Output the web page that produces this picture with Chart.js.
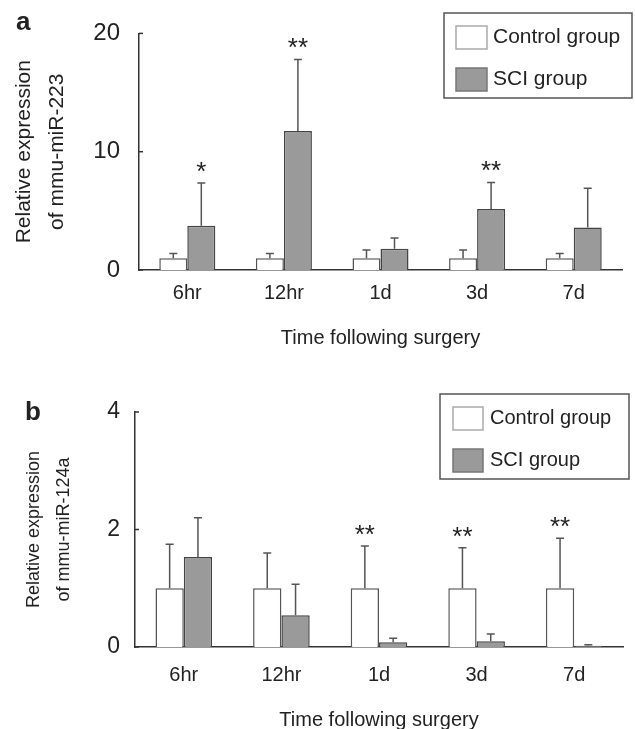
<!DOCTYPE html>
<html>
<head>
<meta charset="utf-8">
<script src="https://cdn.jsdelivr.net/npm/chart.js@4.4.1/dist/chart.umd.min.js"></script>
<style>
    html, body { margin: 0; padding: 0; background: #fff; width: 635px; height: 729px; overflow: hidden; }
    .panel { position: absolute; left: 0; width: 635px; }
    #panel-a { top: 0; height: 365px; }
    #panel-b { top: 365px; height: 380px; }
    .tag { position: absolute; font: bold 26px "Liberation Sans", Arial, sans-serif; line-height: 26px; color: #222; }
</style>
</head>
<body>
<div class="panel" id="panel-a"><canvas id="chart-a"></canvas></div>
<div class="panel" id="panel-b"><canvas id="chart-b"></canvas></div>
<div class="tag" style="left:16px; top:8px;">a</div>
<div class="tag" style="left:25px; top:398px;">b</div>
<script>
const FONT = '"Liberation Sans", Arial, sans-serif';

const categories = ["6hr", "12hr", "1d", "3d", "7d"];

// panel a: mmu-miR-223
const controlA = [1, 1, 1, 1, 1];
const controlErrA = [0.4, 0.4, 0.7, 0.7, 0.4];
const sciA = [3.75, 11.75, 1.8, 5.15, 3.6];
const sciErrA = [3.6, 6.05, 0.9, 2.25, 3.3];
const controlStarsA = ["", "", "", "", ""];
const sciStarsA = ["*", "**", "", "**", ""];
const yTicksA = [0, 10, 20];

// panel b: mmu-miR-124a
const controlB = [1, 1, 1, 1, 1];
const controlErrB = [0.75, 0.6, 0.72, 0.69, 0.85];
const sciB = [1.53, 0.54, 0.08, 0.1, 0.02];
const sciErrB = [0.67, 0.53, 0.07, 0.12, 0.02];
const controlStarsB = ["", "", "**", "**", "**"];
const sciStarsB = ["", "", "", "", ""];
const yTicksB = [0, 2, 4];

// upper error bars + significance stars
const errorBars = {
    id: "errorBars",
    afterDatasetsDraw(chart) {
        const ctx = chart.ctx;
        const y = chart.scales.y;
        chart.data.datasets.forEach((ds, i) => {
            chart.getDatasetMeta(i).data.forEach((bar, j) => {
                const base = y.getPixelForValue(ds.data[j]);
                const top = y.getPixelForValue(ds.data[j] + ds.errors[j]);
                ctx.save();
                ctx.strokeStyle = "#555";
                ctx.lineWidth = 1.5;
                ctx.beginPath();
                ctx.moveTo(bar.x, base);
                ctx.lineTo(bar.x, top);
                ctx.moveTo(bar.x - 4, top);
                ctx.lineTo(bar.x + 4, top);
                ctx.stroke();
                if (ds.stars[j]) {
                    ctx.fillStyle = "#222";
                    ctx.font = "26px " + FONT;
                    ctx.textAlign = "center";
                    ctx.textBaseline = "alphabetic";
                    ctx.fillText(ds.stars[j], bar.x, top - 3);
                }
                ctx.restore();
            });
        });
    },
};

// small inward tick marks on the y axis
const innerTicks = {
    id: "innerTicks",
    afterDraw(chart) {
        const ctx = chart.ctx;
        const y = chart.scales.y;
        ctx.save();
        ctx.strokeStyle = "#333";
        ctx.lineWidth = 1.5;
        y.ticks.forEach((t) => {
            const py = y.getPixelForValue(t.value);
            ctx.beginPath();
            ctx.moveTo(y.right, py);
            ctx.lineTo(y.right + 4, py);
            ctx.stroke();
        });
        ctx.restore();
    },
};

// boxed legend in the top right corner
const boxLegend = {
    id: "boxLegend",
    afterDraw(chart, args, o) {
        const ctx = chart.ctx;
        ctx.save();
        ctx.strokeStyle = "#555";
        ctx.lineWidth = 1.5;
        ctx.strokeRect(o.x, o.y, o.w, o.h);
        chart.data.datasets.forEach((ds, i) => {
            const ry = o.rows[i];
            ctx.fillStyle = ds.backgroundColor;
            ctx.fillRect(o.sx, ry, o.sw, o.sh);
            ctx.strokeStyle = o.swatchBorder[i];
            ctx.lineWidth = 1.5;
            ctx.strokeRect(o.sx, ry, o.sw, o.sh);
            ctx.fillStyle = "#222";
            ctx.font = o.size + "px " + FONT;
            ctx.textAlign = "left";
            ctx.textBaseline = "middle";
            ctx.fillText(ds.label, o.tx, ry + o.sh / 2);
        });
        ctx.restore();
    },
};

const makeChart = (el, p) =>
    new Chart(el, {
        type: "bar",
        data: {
            labels: categories,
            datasets: [
                {
                    label: "Control group",
                    data: p.control,
                    errors: p.controlErr,
                    stars: p.controlStars,
                    backgroundColor: "#ffffff",
                    borderColor: "#555",
                    borderWidth: 1.5,
                    categoryPercentage: 0.58,
                    barPercentage: 1,
                },
                {
                    label: "SCI group",
                    data: p.sci,
                    errors: p.sciErr,
                    stars: p.sciStars,
                    backgroundColor: "#9a9a9a",
                    borderColor: "#444",
                    borderWidth: 1.5,
                    categoryPercentage: 0.58,
                    barPercentage: 1,
                },
            ],
        },
        options: {
            responsive: true,
            maintainAspectRatio: false,
            animation: false,
            devicePixelRatio: 1,
            layout: { padding: { left: 0, right: p.padRight, top: p.padTop, bottom: 0 } },
            plugins: {
                legend: { display: false },
                tooltip: { enabled: false },
                boxLegend: p.legend,
            },
            scales: {
                x: {
                    grid: { display: false, drawTicks: false },
                    border: { display: true, color: "#333", width: 1.5 },
                    ticks: { color: "#222", font: { family: FONT, size: 20 }, padding: p.xTickPad },
                    title: {
                        display: true,
                        text: "Time following surgery",
                        color: "#222",
                        font: { family: FONT, size: 20 },
                        padding: { top: 0, bottom: p.xTitlePad },
                    },
                    afterFit: (s) => { s.height = p.xHeight; },
                },
                y: {
                    min: 0,
                    max: p.yTicks[p.yTicks.length - 1],
                    afterBuildTicks: (s) => { s.ticks = p.yTicks.map((v) => ({ value: v })); },
                    grid: { display: false, drawTicks: false },
                    border: { display: true, color: "#333", width: 1.5 },
                    ticks: { color: "#222", font: { family: FONT, size: p.yTickSize }, padding: p.yTickPad },
                    title: {
                        display: true,
                        text: p.yTitle,
                        color: "#222",
                        font: { family: FONT, size: p.yTitleSize, lineHeight: p.yTitleLine },
                        padding: { top: p.yTitlePad, bottom: 0 },
                    },
                    afterFit: (s) => { s.width = p.yWidth; },
                },
            },
        },
        plugins: [errorBars, innerTicks, boxLegend],
    });

window.chartA = makeChart(document.getElementById("chart-a"), {
    control: controlA, controlErr: controlErrA, controlStars: controlStarsA,
    sci: sciA, sciErr: sciErrA, sciStars: sciStarsA,
    yTicks: yTicksA,
    yTitle: ["Relative expression", "of mmu-miR-223"],
    yTitleSize: 21, yTitleLine: 1.57, yTitlePad: 8,
    yTickSize: 24, yTickPad: 19, yWidth: 139,
    xTickPad: 11, xTitlePad: 15, xHeight: 95,
    padTop: 25, padRight: 13,
    legend: { x: 444, y: 13, w: 188, h: 85, sx: 456, sw: 31, sh: 23, rows: [26, 68], tx: 493, size: 21, swatchBorder: ["#aaa", "#777"] },
});

window.chartB = makeChart(document.getElementById("chart-b"), {
    control: controlB, controlErr: controlErrB, controlStars: controlStarsB,
    sci: sciB, sciErr: sciErrB, sciStars: sciStarsB,
    yTicks: yTicksB,
    yTitle: ["Relative expression", "of mmu-miR-124a"],
    yTitleSize: 18, yTitleLine: 1.67, yTitlePad: 19,
    yTickSize: 23, yTickPad: 15, yWidth: 135,
    xTickPad: 16, xTitlePad: 13, xHeight: 98,
    padTop: 47, padRight: 12,
    legend: { x: 440, y: 29, w: 189, h: 85, sx: 453, sw: 30, sh: 23, rows: [42, 84], tx: 490, size: 20, swatchBorder: ["#aaa", "#777"] },
});
</script>
</body>
</html>
